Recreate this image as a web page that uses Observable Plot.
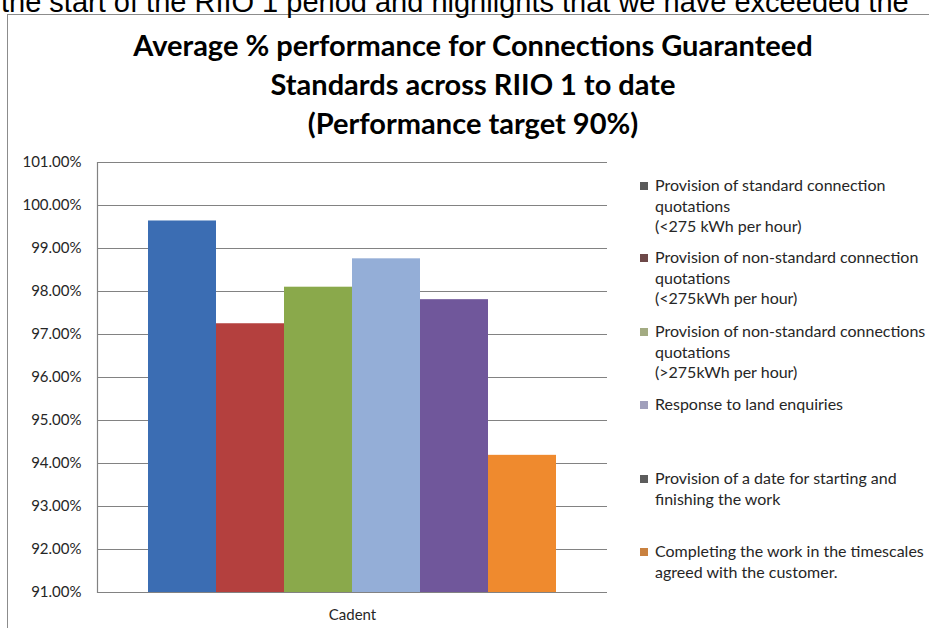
<!DOCTYPE html>
<html>
<head>
<meta charset="utf-8">
<script src="https://cdn.jsdelivr.net/npm/d3@7"></script>
<script src="https://cdn.jsdelivr.net/npm/@observablehq/plot@0.6"></script>
<style>
  html, body { margin: 0; padding: 0; background: #ffffff; }
  #wrap { position: relative; width: 929px; height: 628px; overflow: hidden; background: #ffffff; }
  #wrap > svg { position: absolute; left: 0; top: 0; }
  #box { position: absolute; left: 7px; top: 14px; width: 1000px; height: 700px;
         border-left: 1.5px solid #8c8c8c; border-top: 1.5px solid #8c8c8c; }
</style>
</head>
<body>
<div id="wrap"><div id="box"></div></div>
<script>
// Report text running above the chart
const pageText = "the start of the RIIO 1 period and highlights that we have exceeded the";

// Chart title, one entry per line
const titleLines = [
  "Average % performance for Connections Guaranteed",
  "Standards across RIIO 1 to date",
  "(Performance target 90%)"
];

// Category on the x axis
const groups = ["Cadent"];

// Guaranteed standards (one bar each)
const series = [
  "Provision of standard connection quotations (<275 kWh per hour)",
  "Provision of non-standard connection quotations (<275kWh per hour)",
  "Provision of non-standard connections quotations (>275kWh per hour)",
  "Response to land enquiries",
  "Provision of a date for starting and finishing the work",
  "Completing the work in the timescales agreed with the customer."
];

// Average % performance for each standard
const values = [99.64, 97.25, 98.10, 98.76, 97.81, 94.19];

// Bar fills and legend swatches
const barColors = ["#3b6db3", "#b4403e", "#8aa94b", "#94aed7", "#70579b", "#ef8a2e"];
const swatchColors = ["#5a5a5a", "#6d4848", "#a3ab82", "#a09fbb", "#5c5c5c", "#c9813f"];

// Legend text, wrapped as it is set
const legendLines = [
  ["Provision of standard connection", "quotations", "(<275 kWh per hour)"],
  ["Provision of non-standard connection", "quotations", "(<275kWh per hour)"],
  ["Provision of non-standard connections", "quotations", "(>275kWh per hour)"],
  ["Response to land enquiries"],
  ["Provision of a date for starting and", "finishing the work"],
  ["Completing the work in the timescales", "agreed with the customer."]
];

// Y axis ticks (percent)
const yTicks = [91, 92, 93, 94, 95, 96, 97, 98, 99, 100, 101];

const rows = series.map((s, i) => ({group: groups[0], series: s, value: values[i]}));

const chart = Plot.plot({
  width: 929,
  height: 628,
  marginLeft: 97,
  marginRight: 322,
  marginTop: 162,
  marginBottom: 36,
  style: {fontFamily: "Lato, sans-serif", fontSize: "15px", color: "#262626", background: "transparent"},
  fx: {domain: groups, padding: 0, label: null, axis: "bottom", tickSize: 0, tickPadding: 17},
  x: {domain: series, paddingInner: 0, paddingOuter: 0.75, axis: null},
  y: {domain: [yTicks[0], yTicks[yTicks.length - 1]], ticks: yTicks,
      tickFormat: d => d.toFixed(2) + "%", tickSize: 0, tickPadding: 16, label: null},
  color: {domain: series, range: barColors},
  marks: [
    Plot.gridY(yTicks, {stroke: "#828282", strokeOpacity: 1, strokeWidth: 1.2}),
    Plot.barY(rows, {fx: "group", x: "series", y1: yTicks[0], y2: "value", fill: "series"}),
    Plot.frame({anchor: "left", stroke: "#828282", strokeWidth: 1.2})
  ]
});
document.getElementById("wrap").appendChild(chart);

// Title, report text and legend drawn on an overlay layer
const W = 929, H = 628;
const layer = d3.select("#wrap").append("svg")
  .attr("width", W).attr("height", H)
  .style("pointer-events", "none");

layer.append("text")
  .attr("x", 1).attr("y", 12)
  .attr("font-family", "'Liberation Sans', Arial, sans-serif")
  .attr("font-size", 29)
  .attr("fill", "#000")
  .text(pageText);

layer.append("g")
  .attr("font-family", "Lato, sans-serif")
  .attr("font-weight", "bold")
  .attr("font-size", 29)
  .attr("fill", "#000")
  .attr("text-anchor", "middle")
  .selectAll("text").data(titleLines).join("text")
  .attr("x", 473)
  .attr("y", (d, i) => 56 + i * 39)
  .text(d => d);

const legendBase = [191, 263, 337, 410, 484, 557];
const lineStep = 20.7;
const entries = layer.append("g")
  .attr("font-family", "Lato, sans-serif")
  .attr("font-size", 16)
  .attr("fill", "#262626")
  .selectAll("g").data(legendLines).join("g");

entries.append("rect")
  .attr("x", 640).attr("y", (d, i) => legendBase[i] - 9)
  .attr("width", 8).attr("height", 8)
  .attr("fill", (d, i) => swatchColors[i]);

entries.each(function (lines, i) {
  d3.select(this).selectAll("text").data(lines).join("text")
    .attr("x", 655)
    .attr("y", (d, j) => legendBase[i] + j * lineStep)
    .text(d => d);
});
</script>
</body>
</html>
